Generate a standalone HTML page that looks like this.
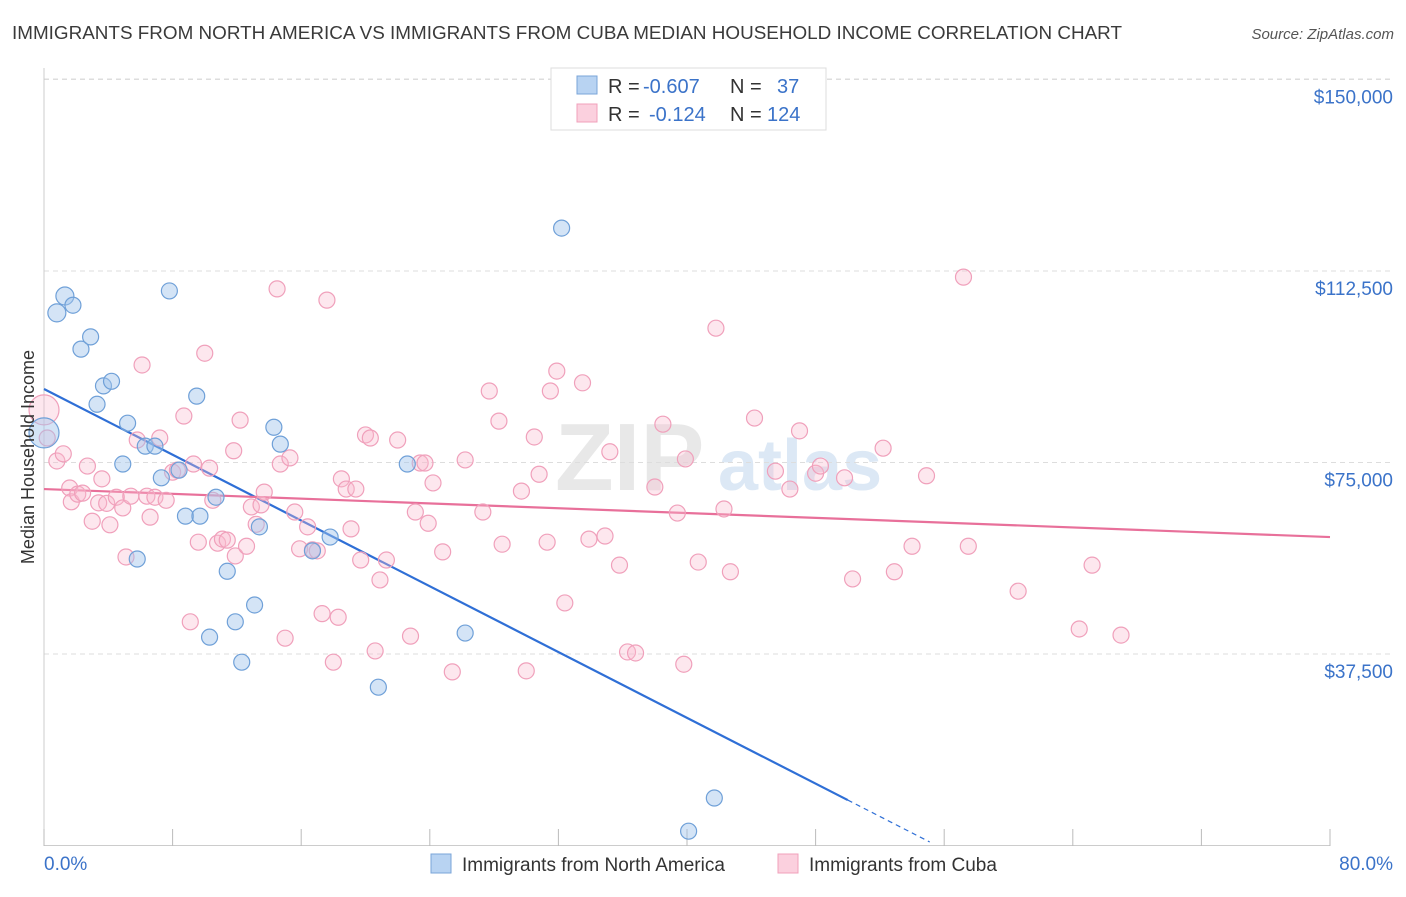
<!DOCTYPE html>
<html><head><meta charset="utf-8"><style>
body{margin:0;background:#fff;font-family:"Liberation Sans",sans-serif;}
svg text{font-family:"Liberation Sans",sans-serif;}
</style></head><body>
<svg id="chart" width="1406" height="892" xmlns="http://www.w3.org/2000/svg">
<text x="12" y="39" font-size="18" fill="#3a3a3a" textLength="1110" lengthAdjust="spacingAndGlyphs">IMMIGRANTS FROM NORTH AMERICA VS IMMIGRANTS FROM CUBA MEDIAN HOUSEHOLD INCOME CORRELATION CHART</text>
<text x="1394" y="39" font-size="15" fill="#555" text-anchor="end" font-style="italic">Source: ZipAtlas.com</text>
<g><text x="555" y="490" font-size="96" fill="#e8e8e8" font-family="Liberation Serif" font-weight="bold">ZIP</text><text x="718" y="490" font-size="72" fill="#dce8f5" font-weight="bold">atlas</text></g>
<g id="grid"></g>
<g id="axes"></g>
<g id="trend"></g>
<g id="points"></g>
<text transform="translate(34,457) rotate(-90)" font-size="18" fill="#333" text-anchor="middle">Median Household Income</text>
<g font-size="20">
<rect x="551" y="68" width="275" height="62" fill="#fff" stroke="#ddd"/>
<rect x="577" y="76" width="20" height="18" fill="#b8d3f2" stroke="#7aa5d8"/>
<rect x="577" y="104" width="20" height="18" fill="#fbd0de" stroke="#f0a0bb"/>
<text x="608" y="93" fill="#333">R =</text><text x="643" y="93" fill="#3b73c9">-0.607</text><text x="730" y="93" fill="#333">N =</text><text x="777" y="93" fill="#3b73c9">37</text>
<text x="608" y="121" fill="#333">R =</text><text x="649" y="121" fill="#3b73c9">-0.124</text><text x="730" y="121" fill="#333">N =</text><text x="767" y="121" fill="#3b73c9">124</text>
</g>
<g>
<rect x="431" y="854" width="20" height="19" fill="#b8d3f2" stroke="#7aa5d8"/>
<text x="462" y="871" font-size="19" fill="#333">Immigrants from North America</text>
<rect x="778" y="854" width="20" height="19" fill="#fbd0de" stroke="#f0a0bb"/>
<text x="809" y="871" font-size="19" fill="#333">Immigrants from Cuba</text>
</g>
</svg>
<script>
const yTicks=[37500,75000,112500,150000];
const yTickLabels=["$37,500","$75,000","$112,500","$150,000"];
const xTicks=[0,8,16,24,32,40,48,56,64,72,80];
const xEndLabels=["0.0%","80.0%"];
const naX=[0.0,0.8,1.3,1.8,2.3,2.9,3.3,3.7,4.2,4.9,5.2,6.3,6.9,7.3,7.8,8.4,8.8,9.5,9.7,10.7,11.4,11.9,12.3,13.1,13.4,14.3,14.7,16.7,17.8,20.8,22.6,26.2,32.2,40.1,41.7,5.8,10.3];
const naY=[80.8,104.3,107.6,105.8,97.2,99.6,86.4,90.0,90.9,74.7,82.7,78.2,78.2,72.0,108.6,73.5,64.5,88.0,64.5,68.2,53.7,43.8,35.9,47.1,62.4,81.9,78.6,57.7,60.4,31.0,74.7,41.6,120.9,2.8,9.3,56.1,40.8];
const cuX=[0.0,0.2,0.8,1.2,1.6,1.7,2.1,2.4,2.7,3.0,3.4,3.6,3.9,4.1,4.5,4.9,5.1,5.4,5.8,6.1,6.4,6.6,6.9,7.2,7.6,8.0,8.3,8.7,9.1,9.3,9.6,10.0,10.3,10.5,10.8,11.1,11.4,11.8,11.9,12.2,12.6,12.9,13.2,13.5,13.7,14.5,14.7,15.0,15.3,15.6,15.9,16.4,16.7,17.0,17.3,17.6,18.0,18.3,18.5,18.8,19.1,19.4,19.7,20.0,20.3,20.6,20.9,21.3,22.0,22.8,23.1,23.4,23.7,23.9,24.2,24.8,25.4,26.2,27.3,27.7,28.3,28.5,29.7,30.0,30.5,30.8,31.3,31.5,31.9,32.4,33.5,33.9,34.9,35.2,35.8,36.3,36.8,38.0,38.5,39.4,39.8,39.9,40.7,41.8,42.3,42.7,44.2,45.5,46.4,47.0,48.0,48.3,49.8,50.3,52.2,52.9,54.0,54.9,57.2,57.5,60.6,64.4,65.2,67.0];
const cuY=[85.3,79.8,75.3,76.7,70.0,67.3,68.8,69.0,74.3,63.5,67.1,71.8,67.0,62.8,68.2,66.1,56.5,68.4,79.4,94.1,68.4,64.3,68.2,79.8,67.6,73.1,73.5,84.1,43.8,74.7,59.4,96.4,73.9,67.6,59.2,60.0,59.8,77.3,56.7,83.3,58.6,66.3,62.9,66.7,69.2,109.0,74.7,40.6,75.9,65.3,58.1,62.4,57.9,57.7,45.4,106.8,35.9,44.7,71.8,69.8,62.0,69.8,55.9,80.4,79.8,38.1,52.0,55.9,79.4,41.0,65.3,74.9,74.9,63.1,71.0,57.5,34.0,75.5,65.3,89.0,83.1,59.0,69.4,34.2,80.0,72.7,59.4,89.0,92.9,47.5,90.6,60.0,60.6,77.1,54.9,37.9,37.7,70.2,82.5,65.1,35.5,75.7,55.5,101.3,65.9,53.6,83.7,73.3,69.8,81.2,72.9,74.3,72.0,52.2,77.8,53.6,58.6,72.4,111.3,58.6,49.8,42.4,54.9,41.2];
const naTrend=[89.4,-1.61];
const cuTrend=[69.8,-0.1175];
const NS="http://www.w3.org/2000/svg";
const X=v=>44+v/80*1286;
const Y=v=>845.5-v/37.5*191.5;
function mk(t,a,p){const e=document.createElementNS(NS,t);for(const k in a)e.setAttribute(k,a[k]);p.appendChild(e);return e;}
const grid=document.getElementById('grid'),axes=document.getElementById('axes');
mk('line',{x1:44,x2:1394,y1:79,y2:79,stroke:'#ddd','stroke-dasharray':'5,4'},grid);
yTicks.forEach((t,i)=>{const y=Y(t/1000);
const l=mk('line',{x1:44,x2:1394,y1:y,y2:y,stroke:'#ddd','stroke-dasharray':'5,4'},grid);


const tx=mk('text',{x:1393,y:y+24,'font-size':19,fill:'#3b73c9','text-anchor':'end'},axes);tx.textContent=yTickLabels[i];

});
mk('line',{x1:44,x2:44,y1:68,y2:846,stroke:'#ccc'},axes);
mk('line',{x1:44,x2:1330,y1:845.5,y2:845.5,stroke:'#ccc'},axes);
xTicks.forEach(t=>{const tk=mk('line',{x1:X(t),x2:X(t),y1:829,y2:846,stroke:'#bbb'},axes);

});
const l0=mk('text',{x:44,y:870,'font-size':19,fill:'#3b73c9'},axes);l0.textContent=xEndLabels[0];
const l1=mk('text',{x:1393,y:870,'font-size':19,fill:'#3b73c9','text-anchor':'end'},axes);l1.textContent=xEndLabels[1];
const tr=document.getElementById('trend');
const f=(c,x)=>c[0]+c[1]*x;
let e=mk('line',{x1:X(0),y1:Y(f(naTrend,0)),x2:X(50),y2:Y(f(naTrend,50)),stroke:'#2f6fd6','stroke-width':2.2},tr);


e=mk('line',{x1:X(50),y1:Y(f(naTrend,50)),x2:X(55.1),y2:Y(f(naTrend,55.1)),stroke:'#2f6fd6','stroke-width':1.2,'stroke-dasharray':'5,4'},tr);


e=mk('line',{x1:X(0),y1:Y(f(cuTrend,0)),x2:X(80),y2:Y(f(cuTrend,80)),stroke:'#e8709a','stroke-width':2.2},tr);


const pts=document.getElementById('points');
cuX.forEach((x,i)=>{const c=mk('circle',{cx:X(x),cy:Y(cuY[i]),r:i==0?15:8,fill:'rgba(248,185,207,0.35)',stroke:'#f0a0bb','stroke-width':1.2},pts);

});
naX.forEach((x,i)=>{const c=mk('circle',{cx:X(x),cy:Y(naY[i]),r:i==0?15:(i<3?9:8),fill:'rgba(160,195,235,0.45)',stroke:'#6fa0d8','stroke-width':1.2},pts);

});
</script>
</body></html>
